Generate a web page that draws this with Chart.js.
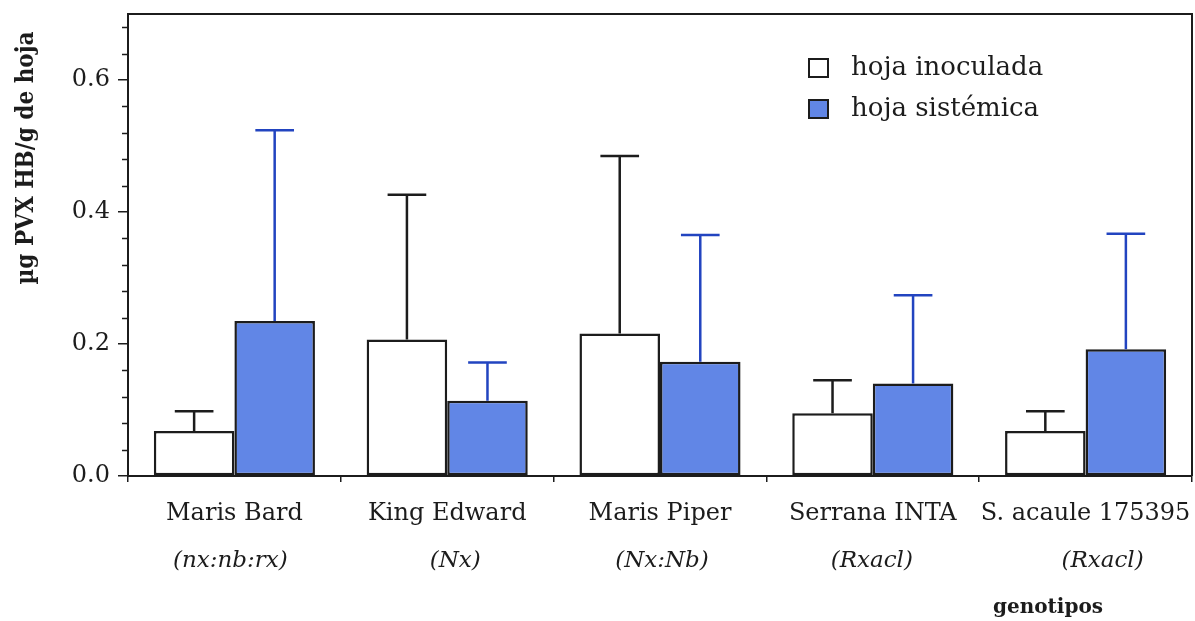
<!DOCTYPE html>
<html>
<head>
<meta charset="utf-8">
<script src="https://cdn.jsdelivr.net/npm/chart.js@4.4.1/dist/chart.umd.min.js"></script>
<style>
  html, body { margin: 0; padding: 0; background: #ffffff; }
  #wrap { width: 1195px; height: 621px; }
</style>
</head>
<body>
<div id="wrap"><canvas id="chart" width="1195" height="621"></canvas></div>
<script>
// Cultivars and their resistance genotypes
const cultivars = ['Maris Bard', 'King Edward', 'Maris Piper', 'Serrana INTA', 'S. acaule 175395'];
const genotypes = ['(nx:nb:rx)', '(Nx)', '(Nx:Nb)', '(Rxacl)', '(Rxacl)'];

// µg PVX HB per g of leaf: means and standard deviations
const inoculadaMean = [0.068, 0.207, 0.216, 0.095, 0.068];
const inoculadaSD   = [0.030, 0.219, 0.269, 0.050, 0.030];
const sistemicaMean = [0.235, 0.114, 0.173, 0.140, 0.192];
const sistemicaSD   = [0.289, 0.058, 0.192, 0.134, 0.175];

const seriesNames = ['hoja inoculada', 'hoja sistémica'];
const yTickValues = [0.0, 0.2, 0.4, 0.6];

const INK = '#1c1c1c';
const BLUE_FILL = '#6186e6';
const BLUE_ERR = '#2244c0';
const SERIF = "'DejaVu Serif', 'Liberation Serif', serif";

// small horizontal nudges of the genotype line under each cultivar name
const genotypeShift = [-4, 8, 2, -1, 17];

// keep the plot box exactly where the layout padding puts it
function noOverflowPadding(s) {
  s.paddingTop = 0; s.paddingBottom = 0; s.paddingLeft = 0; s.paddingRight = 0;
}

const errorBars = {
  id: 'errorBars',
  afterDatasetsDraw(chart) {
    const ctx = chart.ctx, y = chart.scales.y;
    chart.data.datasets.forEach((ds, i) => {
      const meta = chart.getDatasetMeta(i);
      meta.data.forEach((bar, j) => {
        const top = y.getPixelForValue(ds.data[j] + ds.sd[j]);
        const half = bar.width * 0.24;
        ctx.save();
        ctx.strokeStyle = ds.errColor;
        ctx.lineWidth = 2.5;
        ctx.beginPath();
        ctx.moveTo(bar.x, bar.y);
        ctx.lineTo(bar.x, top);
        ctx.moveTo(bar.x - half, top);
        ctx.lineTo(bar.x + half, top);
        ctx.stroke();
        ctx.restore();
      });
    });
  }
};

const decorations = {
  id: 'decorations',
  afterDraw(chart) {
    const ctx = chart.ctx, a = chart.chartArea;
    const x = chart.scales.x, y = chart.scales.y;
    ctx.save();
    // frame: top and right edges of the plot box
    ctx.strokeStyle = INK;
    ctx.lineWidth = 2;
    ctx.beginPath();
    ctx.moveTo(a.left, a.top);
    ctx.lineTo(a.right, a.top);
    ctx.lineTo(a.right, a.bottom);
    ctx.stroke();

    // minor ticks on the value axis
    ctx.lineWidth = 1.5;
    ctx.beginPath();
    for (let k = 1; k <= 17; k++) {
      if (k % 5 === 0) continue;
      const py = Math.round(y.getPixelForValue(k * 0.04)) + 0.5;
      ctx.moveTo(a.left - 6, py);
      ctx.lineTo(a.left, py);
    }
    ctx.stroke();

    // genotype line under each cultivar
    ctx.fillStyle = INK;
    ctx.font = 'italic 23px ' + SERIF;
    ctx.textAlign = 'center';
    ctx.textBaseline = 'alphabetic';
    genotypes.forEach((g, i) => {
      ctx.fillText(g, x.getPixelForValue(i) + genotypeShift[i], 567);
    });

    // axis titles
    ctx.font = 'bold 20px ' + SERIF;
    ctx.fillText('genotipos', 1048, 613);

    ctx.save();
    ctx.translate(27, 158);
    ctx.rotate(-Math.PI / 2);
    ctx.font = "bold 24px 'DejaVu Serif Condensed', 'DejaVu Serif', serif";
    ctx.textBaseline = 'middle';
    ctx.fillText('µg PVX HB/g de hoja', 0, 0);
    ctx.restore();

    // legend
    ctx.font = '26px ' + SERIF;
    ctx.textAlign = 'left';
    ctx.textBaseline = 'middle';
    chart.data.datasets.forEach((ds, i) => {
      const cy = 68 + i * 41;
      ctx.fillStyle = ds.backgroundColor;
      ctx.fillRect(809, cy - 9, 19, 18);
      ctx.strokeStyle = INK;
      ctx.lineWidth = 2;
      ctx.strokeRect(809, cy - 9, 19, 18);
      ctx.fillStyle = INK;
      ctx.fillText(ds.label, 851, cy);
    });
    ctx.restore();
  }
};

new Chart(document.getElementById('chart'), {
  type: 'bar',
  data: {
    labels: cultivars,
    datasets: [
      {
        label: seriesNames[0],
        data: inoculadaMean,
        sd: inoculadaSD,
        errColor: INK,
        backgroundColor: '#ffffff',
        borderColor: INK,
        borderWidth: 2.5,
        borderSkipped: false
      },
      {
        label: seriesNames[1],
        data: sistemicaMean,
        sd: sistemicaSD,
        errColor: BLUE_ERR,
        backgroundColor: BLUE_FILL,
        borderColor: INK,
        borderWidth: 2.5,
        borderSkipped: false
      }
    ]
  },
  options: {
    responsive: false,
    animation: false,
    devicePixelRatio: 1,
    layout: { padding: { left: 0, right: 3, top: 14, bottom: 0 } },
    datasets: { bar: { categoryPercentage: 0.757, barPercentage: 1.0 } },
    plugins: { legend: { display: false }, tooltip: { enabled: false } },
    scales: {
      x: {
        grid: { offset: true, drawOnChartArea: false, tickLength: 6, color: INK, lineWidth: 1.5 },
        border: { color: INK, width: 2 },
        ticks: { color: INK, font: { family: SERIF, size: 24 }, padding: 17, maxRotation: 0, autoSkip: false },
        afterFit(s) { s.height = 145; noOverflowPadding(s); }
      },
      y: {
        min: 0,
        max: 0.7,
        afterBuildTicks(s) { s.ticks = yTickValues.map(v => ({ value: v })); },
        grid: { drawOnChartArea: false, tickLength: 10, color: INK, lineWidth: 1.5 },
        border: { color: INK, width: 2 },
        ticks: { color: INK, font: { family: SERIF, size: 24 }, padding: 8, callback: v => v.toFixed(1) },
        afterFit(s) { s.width = 128; noOverflowPadding(s); }
      }
    }
  },
  plugins: [errorBars, decorations]
});
</script>
</body>
</html>
